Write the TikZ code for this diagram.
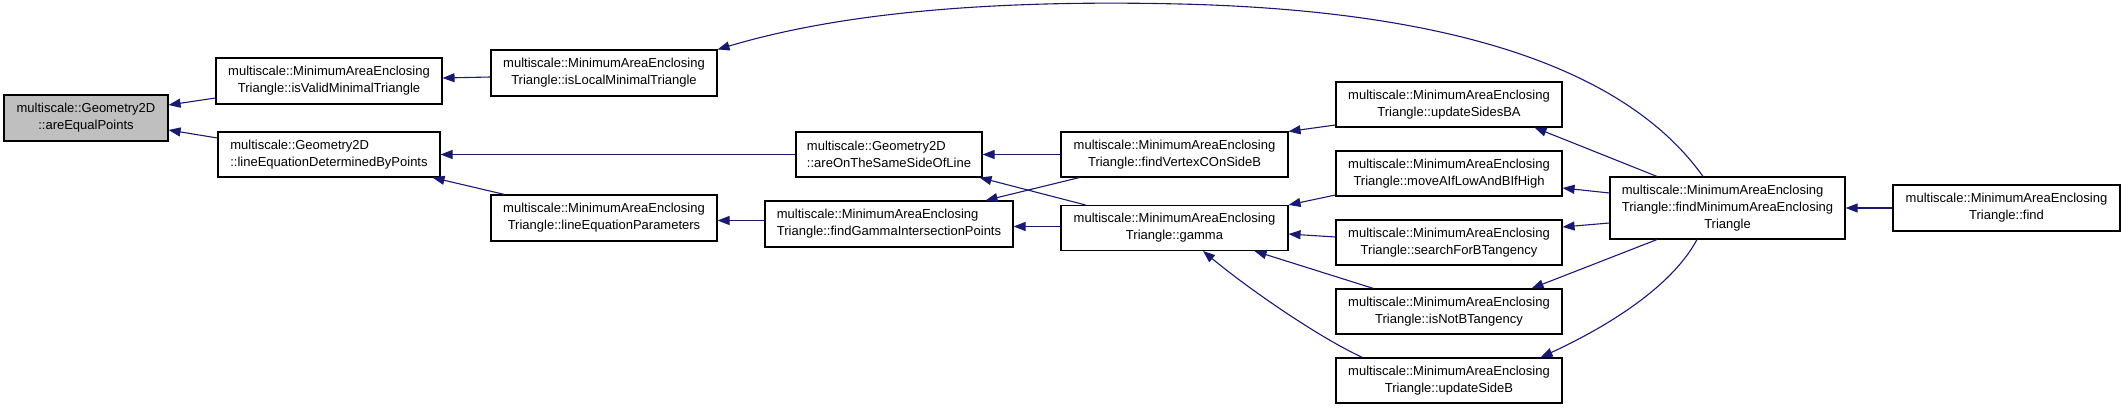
\documentclass[tikz,border=0pt]{standalone}
\usepackage{fontspec}
\setmainfont{Liberation Sans}
\usetikzlibrary{arrows.meta}
\definecolor{edgecol}{HTML}{191970}
\definecolor{grayfill}{HTML}{BFBFBF}
\begin{document}
\begin{tikzpicture}[x=1pt,y=-1pt,
  box/.style={draw=black, line width=1.1pt, fill=white, inner sep=0pt,
    font=\fontsize{13}{17}\selectfont, align=center},
  lbox/.style={box, align=left},
  w226/.style={minimum width=226pt, minimum height=45pt},
  edge/.style={draw=edgecol, line width=1.1pt,
    -{Triangle[length=12pt,width=9pt,fill=edgecol]}},
]
\useasboundingbox (0,0) rectangle (2125,409);

\node[box, fill=grayfill, minimum width=164pt, minimum height=46pt] (aep) at (86,118)
  {multiscale::Geometry2D\\::areEqualPoints};
\node[box, minimum width=226pt, minimum height=46pt] (ivmt) at (329,81)
  {multiscale::MinimumAreaEnclosing\\Triangle::isValidMinimalTriangle};
\node[box, minimum width=226pt, minimum height=46pt] (ilmt) at (604,73)
  {multiscale::MinimumAreaEnclosing\\Triangle::isLocalMinimalTriangle};
\node[lbox, minimum width=222pt, minimum height=45pt] (ledbp) at (329,154.5)
  {multiscale::Geometry2D\\::lineEquationDeterminedByPoints};
\node[box, minimum width=226pt, minimum height=46pt] (lep) at (604,218)
  {multiscale::MinimumAreaEnclosing\\Triangle::lineEquationParameters};
\node[lbox, minimum width=186pt, minimum height=45pt] (aots) at (889,154.5)
  {multiscale::Geometry2D\\::areOnTheSameSideOfLine};
\node[lbox, minimum width=248pt, minimum height=46pt] (fgip) at (889,224)
  {multiscale::MinimumAreaEnclosing\\Triangle::findGammaIntersectionPoints};
\node[box, minimum width=227pt, minimum height=45pt] (fvc) at (1174.5,154.5)
  {multiscale::MinimumAreaEnclosing\\Triangle::findVertexCOnSideB};
\node[box, minimum width=227pt, minimum height=45pt] (gamma) at (1174.5,228)
  {multiscale::MinimumAreaEnclosing\\Triangle::gamma};
\node[box, w226] (usba) at (1449,104.5)
  {multiscale::MinimumAreaEnclosing\\Triangle::updateSidesBA};
\node[box, w226] (mai) at (1449,173.5)
  {multiscale::MinimumAreaEnclosing\\Triangle::moveAIfLowAndBIfHigh};
\node[box, w226] (sfbt) at (1449,242.5)
  {multiscale::MinimumAreaEnclosing\\Triangle::searchForBTangency};
\node[box, w226] (inbt) at (1449,311.5)
  {multiscale::MinimumAreaEnclosing\\Triangle::isNotBTangency};
\node[box, w226] (usb) at (1449,380.5)
  {multiscale::MinimumAreaEnclosing\\Triangle::updateSideB};
\node[box, minimum width=235pt, minimum height=62pt] (fmaet) at (1727.5,208)
  {\begin{tabular}{@{}l@{}}multiscale::MinimumAreaEnclosing\\Triangle::findMinimumAreaEnclosing\\\multicolumn{1}{@{}c@{}}{Triangle}\end{tabular}};
\node[box, minimum width=227pt, minimum height=46pt] (find) at (2006.5,208)
  {multiscale::MinimumAreaEnclosing\\Triangle::find};

\coordinate (peak) at (1180,4);

\draw[edge] ([yshift=-17pt]ivmt.west) -- ([yshift=13pt]aep.east);
\draw[edge] ([yshift=16.5pt]ledbp.west) -- ([yshift=-12pt]aep.east);
\draw[edge] ([yshift=-4pt]ilmt.west) -- ([yshift=3pt]ivmt.east);
\draw[edge] ([xshift=-24.5pt]fmaet.north) .. controls (1620,60) and (1430,10) .. (peak)
  .. controls (930,-2) and (800,25) .. (ilmt.north east);
\draw[edge] (aots.west) -- (ledbp.east);
\draw[edge] ([xshift=14pt]lep.north west) -- ([xshift=-8pt]ledbp.south east);
\draw[edge] ([yshift=3.5pt]fgip.west) -- ([yshift=-2.5pt]lep.east);
\draw[edge] (fvc.west) -- (aots.east);
\draw[edge] ([xshift=25pt]gamma.north west) -- ([xshift=-3pt]aots.south east);
\draw[edge] ([xshift=19pt]fvc.south west) -- ([xshift=-28pt]fgip.north east);
\draw[edge] ([yshift=1.5pt]gamma.west) -- ([yshift=-2.5pt]fgip.east);
\draw[edge] ([yshift=-20.5pt]usba.west) -- (fvc.north east);
\draw[edge] ([yshift=-21.5pt]mai.west) -- (gamma.north east);
\draw[edge] ([yshift=5.5pt]sfbt.west) -- ([yshift=-6pt]gamma.east);
\draw[edge] ([xshift=38pt]inbt.north west) -- ([xshift=-34pt]gamma.south east);
\draw[edge] ([xshift=27pt]usb.north west) .. controls (1320,338) and (1250,290) .. ([xshift=28.5pt]gamma.south);
\draw[edge] ([xshift=-70.5pt]fmaet.north) -- ([xshift=-28pt]usba.south east);
\draw[edge] ([yshift=15pt]fmaet.west) -- ([yshift=-14.5pt]mai.east);
\draw[edge] ([yshift=-15pt]fmaet.west) -- ([yshift=15.5pt]sfbt.east);
\draw[edge] ([xshift=-70.5pt]fmaet.south) -- ([xshift=-31pt]inbt.north east);
\draw[edge] ([xshift=-30.5pt]fmaet.south) .. controls (1670,290) and (1600,330) .. ([xshift=-22pt]usb.north east);
\draw[edge] (find.west) -- (fmaet.east);
\end{tikzpicture}
\end{document}
